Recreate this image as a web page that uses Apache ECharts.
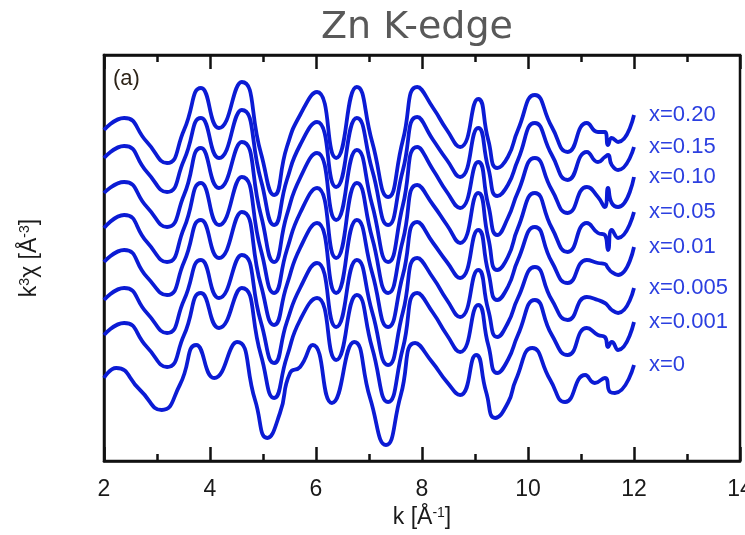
<!DOCTYPE html>
<html><head><meta charset="utf-8">
<script src="https://cdn.jsdelivr.net/npm/echarts@6/dist/echarts.min.js"></script>
<style>html,body{margin:0;padding:0;background:#fff}#c{width:745px;height:535px}</style>
</head><body><div id="c"></div>
<script>
// k grid (Å^-1) shared by curves x=0.001 ... x=0.20
var kGrid = [2.00,2.38,2.81,3.19,3.51,3.83,4.17,4.60,4.96,5.21,5.45,5.70,6.02,6.38,6.77,7.06,7.36,7.64,7.91,8.21,8.47,8.72,9.06,9.25,9.42,9.62,9.81,10.13,10.45,10.75,11.11,11.32,11.45,11.51,11.58,11.70,12.00];
// k grid for x=0 curve
var kGrid0 = [2.00,2.23,2.68,3.09,3.43,3.74,4.08,4.51,4.85,5.08,5.32,5.51,5.70,5.94,6.30,6.72,7.02,7.32,7.60,7.87,8.19,8.47,8.72,9.02,9.21,9.38,9.62,9.77,10.08,10.42,10.70,11.08,11.26,11.45,11.55,11.64,12.00];
// k^3 chi (arbitrary units, stacked with offsets)
var y020  = [331,343,319,298,331,373,333,379,308,266,314,346,369,303,374,319,264,321,374,353,331,314,362,321,293,304,331,366,334,309,338,329,329,316,323,319,346];
var y015  = [303,315,289,269,301,343,303,351,281,236,281,316,339,274,343,291,236,291,344,321,301,284,333,293,265,276,301,338,306,281,309,299,304,306,296,291,314];
var y010  = [268,279,254,234,266,313,273,319,246,199,246,283,308,241,311,256,199,256,314,291,269,253,299,256,226,243,269,303,271,248,274,264,254,273,258,254,284];
var y005  = [233,246,219,199,233,278,236,284,211,168,211,248,273,203,278,223,168,221,276,256,236,218,268,223,191,204,233,268,233,209,238,228,226,211,231,223,249];
var y001  = [199,211,184,166,199,241,203,249,176,136,176,213,238,168,241,188,134,186,239,218,199,183,231,189,161,174,201,234,199,178,201,198,197,193,189,186,214];
var y0005 = [161,173,148,128,161,201,163,206,139,98,139,173,198,134,201,149,96,149,203,183,161,144,191,151,124,138,163,194,161,141,164,161,158,155,151,148,173];
var y0001 = [126,138,114,94,126,168,133,173,106,63,104,141,163,101,166,113,59,113,168,148,126,109,156,116,88,101,126,161,126,106,133,126,124,114,119,111,139];
var y0    = [83,93,71,51,76,116,83,119,61,23,48,88,94,116,58,119,63,16,66,118,99,79,66,106,69,43,58,81,113,81,59,86,78,83,69,68,96];
var seriesNames = ['x=0.20','x=0.15','x=0.10','x=0.05','x=0.01','x=0.005','x=0.001','x=0'];
var xTicks = [2,4,6,8,10,12,14];

function pairs(ks, ys){ return ks.map(function(k,i){ return [k, ys[i]]; }); }
var curves = [
  pairs(kGrid, y020), pairs(kGrid, y015), pairs(kGrid, y010), pairs(kGrid, y005),
  pairs(kGrid, y001), pairs(kGrid, y0005), pairs(kGrid, y0001), pairs(kGrid0, y0)
];
var lineColor = '#0b1bd4';
var labelColor = '#2b3fe0';
var font = "'Liberation Sans', Arial, sans-serif";

var chart = echarts.init(document.getElementById('c'), null, {renderer:'canvas'});
var axisCommon = {
  type:'value', min:xTicks[0], max:xTicks[xTicks.length-1], interval:2,
  axisLine:{show:true, lineStyle:{color:'#111', width:2.5}},
  axisTick:{show:true, inside:true, length:14, lineStyle:{color:'#111', width:2.5}},
  minorTick:{show:true, splitNumber:2, length:7, lineStyle:{color:'#111', width:2.5}},
  splitLine:{show:false}
};
chart.setOption({
  animation:false,
  backgroundColor:'#fff',
  title:{text:'Zn K-edge', left:412, textAlign:'center', top:4,
    textStyle:{fontFamily:"'DejaVu Sans', sans-serif", fontSize:38, fontWeight:'normal', color:'#595959'}},
  grid:{left:104, right:5, top:55, bottom:74, containLabel:false, outerBoundsMode:'none',
    show:true, borderColor:'#111', borderWidth:2.5},
  xAxis:[
    Object.assign({}, axisCommon, {position:'bottom',
      axisLabel:{show:true, margin:17, fontSize:23, color:'#1a1a1a', fontFamily:font},
      name:'{a|k [Å}{s|-1}{a|]}', nameLocation:'middle', nameGap:44,
      nameTextStyle:{rich:{a:{fontSize:23, color:'#1a1a1a', fontFamily:font},
                           s:{fontSize:14, color:'#1a1a1a', fontFamily:font, verticalAlign:'top'}}}}),
    Object.assign({}, axisCommon, {position:'top', axisLabel:{show:false}})
  ],
  yAxis:{type:'value', min:0, max:406, axisLabel:{show:false}, axisTick:{show:false}, splitLine:{show:false},
    axisLine:{show:true, lineStyle:{color:'#111', width:2.5}},
    name:'{a|k}{s|3}{a|χ [Å}{s|-3}{a|]}', nameLocation:'middle', nameRotate:90, nameGap:63,
    nameTextStyle:{rich:{a:{fontSize:23, color:'#1a1a1a', fontFamily:font},
                         s:{fontSize:14, color:'#1a1a1a', fontFamily:font, verticalAlign:'top'}}}},
  graphic:[{type:'text', left:113, top:68, style:{text:'(a)', fontSize:22, fontFamily:font, fill:'#2e2418'}}],
  series: curves.map(function(d, i){
    return {type:'line', name:seriesNames[i], data:d, xAxisIndex:0, showSymbol:false, smooth:0.55,
      lineStyle:{color:lineColor, width:3.8}, itemStyle:{color:lineColor},
      endLabel:{show:true, formatter:'{a}', distance:15, color:labelColor, fontSize:22, fontFamily:font}};
  })
});
</script></body></html>
